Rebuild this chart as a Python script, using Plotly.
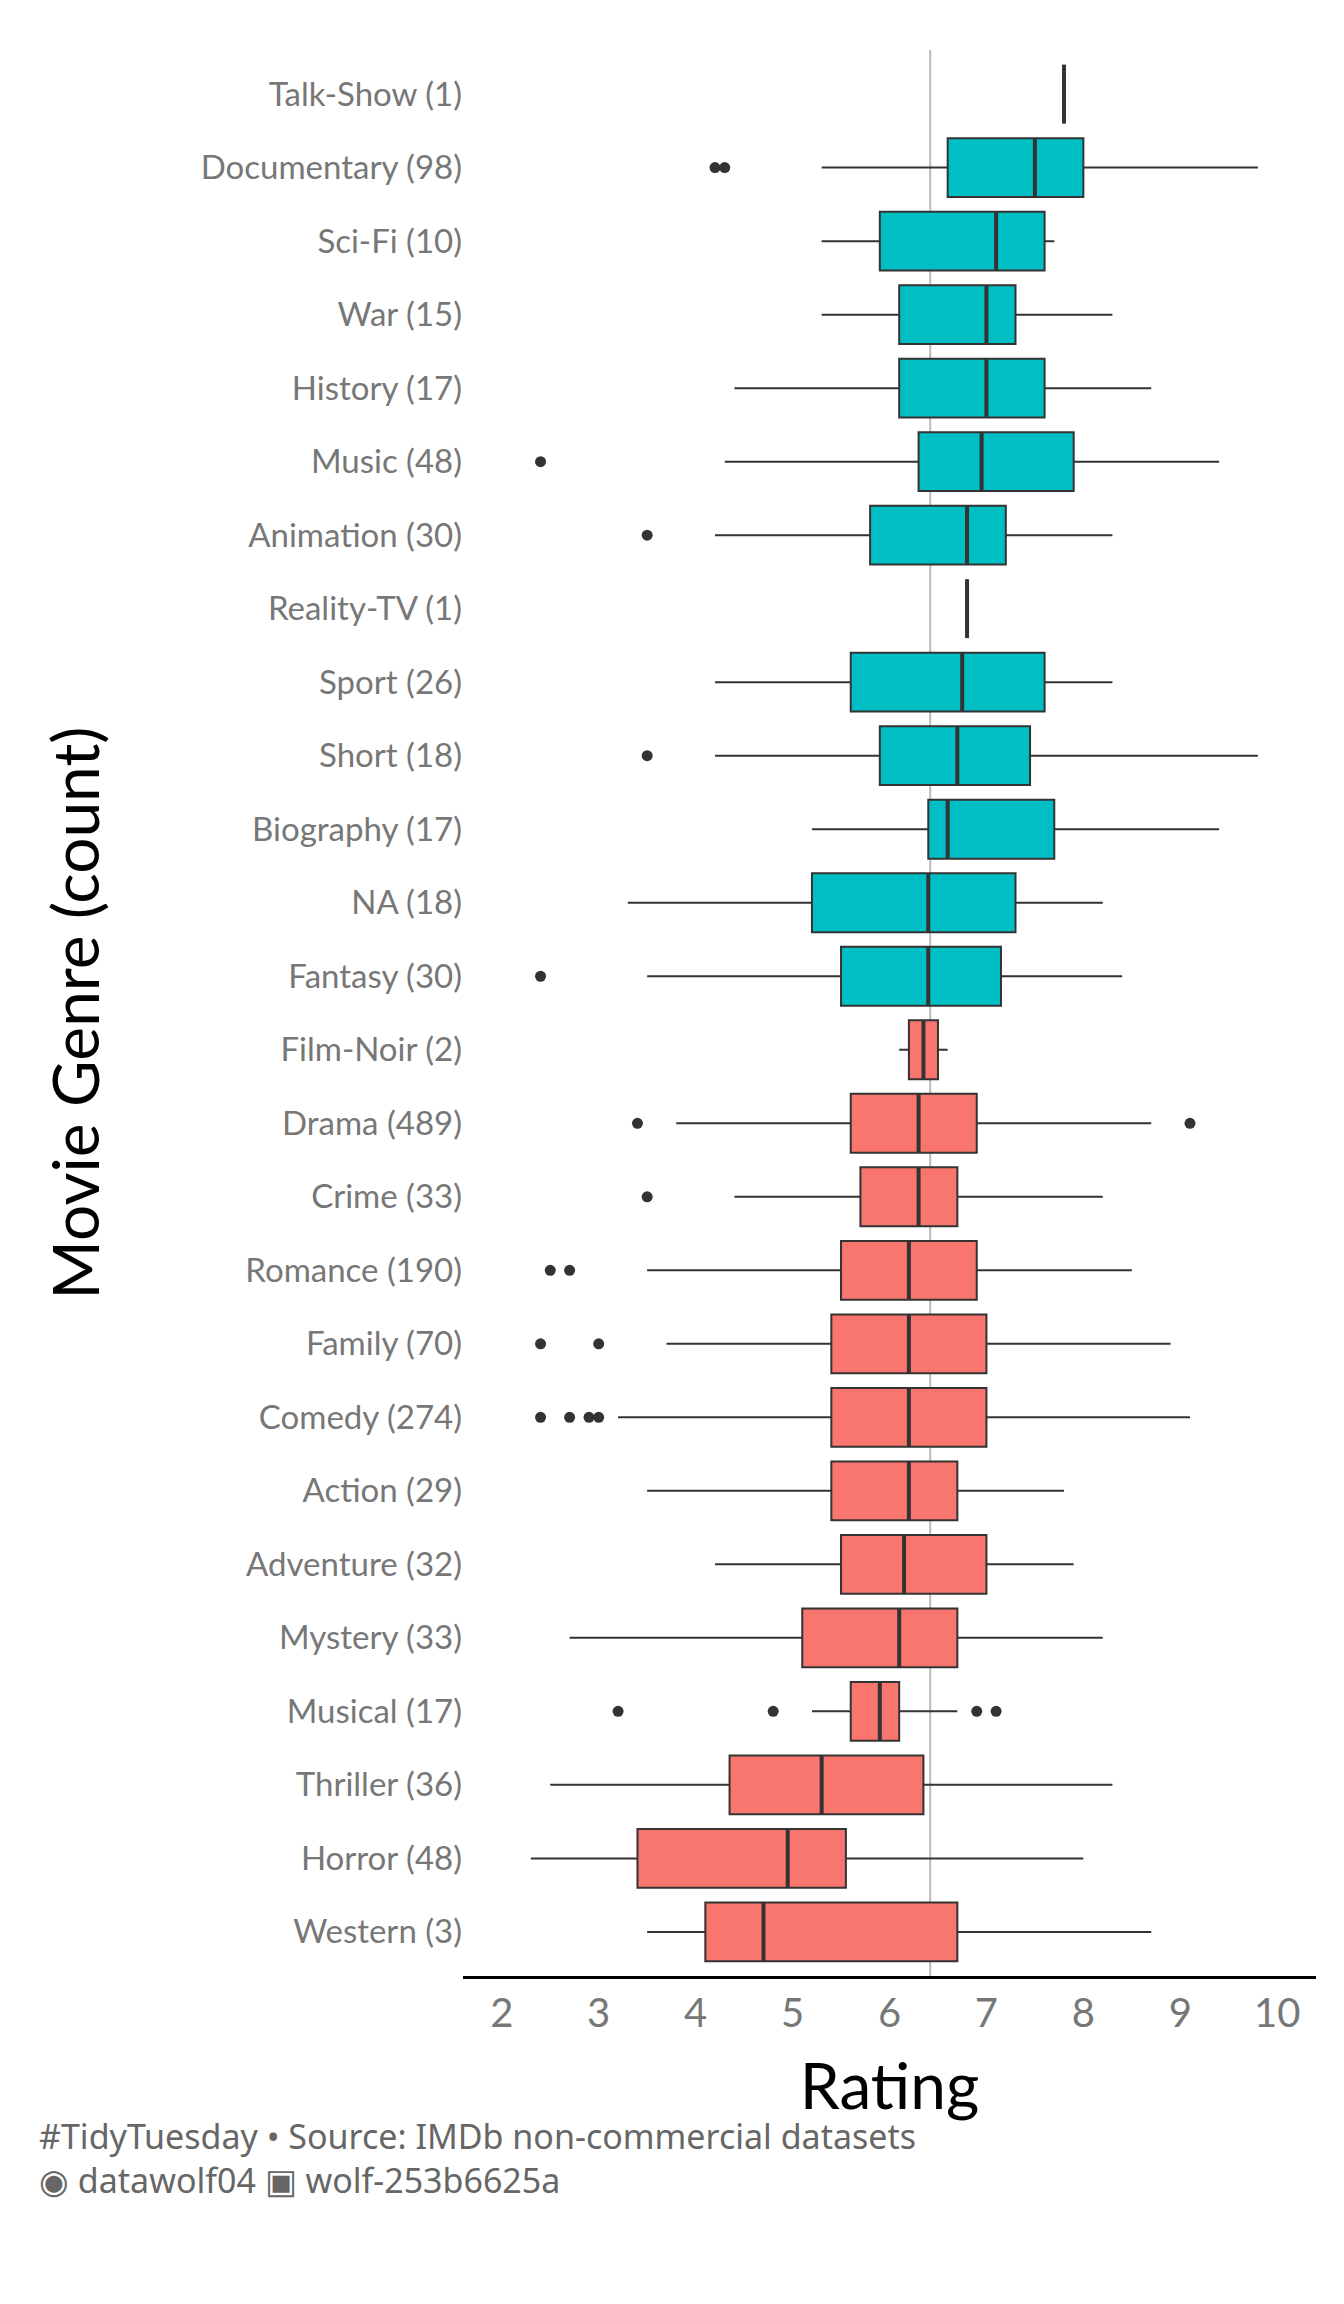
import plotly.graph_objects as go

genres = ["Talk-Show (1)", "Documentary (98)", "Sci-Fi (10)", "War (15)", "History (17)",
          "Music (48)", "Animation (30)", "Reality-TV (1)", "Sport (26)", "Short (18)",
          "Biography (17)", "NA (18)", "Fantasy (30)", "Film-Noir (2)", "Drama (489)",
          "Crime (33)", "Romance (190)", "Family (70)", "Comedy (274)", "Action (29)",
          "Adventure (32)", "Mystery (33)", "Musical (17)", "Thriller (36)", "Horror (48)",
          "Western (3)"]
lower = [7.8, 5.3, 5.3, 5.3, 4.4, 4.3, 4.2, 6.8, 4.2, 4.2, 5.2, 3.3, 3.5, 6.1, 3.8,
         4.4, 3.5, 3.7, 3.2, 3.5, 4.2, 2.7, 5.2, 2.5, 2.3, 3.5]
q1 = [7.8, 6.6, 5.9, 6.1, 6.1, 6.3, 5.8, 6.8, 5.6, 5.9, 6.4, 5.2, 5.5, 6.2, 5.6,
      5.7, 5.5, 5.4, 5.4, 5.4, 5.5, 5.1, 5.6, 4.35, 3.4, 4.1]
median = [7.8, 7.5, 7.1, 7.0, 7.0, 6.95, 6.8, 6.8, 6.75, 6.7, 6.6, 6.4, 6.4, 6.35, 6.3,
          6.3, 6.2, 6.2, 6.2, 6.2, 6.15, 6.1, 5.9, 5.3, 4.95, 4.7]
q3 = [7.8, 8.0, 7.6, 7.3, 7.6, 7.9, 7.2, 6.8, 7.6, 7.45, 7.7, 7.3, 7.15, 6.5, 6.9,
      6.7, 6.9, 7.0, 7.0, 6.7, 7.0, 6.7, 6.1, 6.35, 5.55, 6.7]
upper = [7.8, 9.8, 7.7, 8.3, 8.7, 9.4, 8.3, 6.8, 8.3, 9.8, 9.4, 8.2, 8.4, 6.6, 8.7,
         8.2, 8.5, 8.9, 9.1, 7.8, 7.9, 8.2, 6.7, 8.3, 8.0, 8.7]
outliers = {
    "Documentary (98)": [4.2, 4.3], "Music (48)": [2.4], "Animation (30)": [3.5],
    "Short (18)": [3.5], "Fantasy (30)": [2.4], "Drama (489)": [3.4, 9.1],
    "Crime (33)": [3.5], "Romance (190)": [2.5, 2.7], "Family (70)": [2.4, 3.0],
    "Comedy (274)": [2.4, 2.7, 2.9, 3.0], "Musical (17)": [3.2, 4.8, 6.9, 7.1],
}
overall_median = 6.42
n_top = 13

fig = go.Figure()
for sl, col in [(slice(0, n_top), "#00BFC4"), (slice(n_top, None), "#F8766D")]:
    fig.add_trace(go.Box(
        orientation="h", y=genres[sl], q1=q1[sl], median=median[sl], q3=q3[sl],
        lowerfence=lower[sl], upperfence=upper[sl], fillcolor=col,
        line=dict(color="#333333", width=2), width=0.8, whiskerwidth=0,
        boxpoints=False, showlegend=False, hoverinfo="skip"))

fig.add_trace(go.Scatter(x=median, y=genres, mode="markers", showlegend=False,
                         marker=dict(symbol="line-ns", size=42,
                                     line=dict(color="#333333", width=4))))
ox, oy = [], []
for g, vals in outliers.items():
    ox += vals
    oy += [g] * len(vals)
fig.add_trace(go.Scatter(x=ox, y=oy, mode="markers", showlegend=False,
                         marker=dict(color="#333333", size=11)))

fig.add_vline(x=overall_median, line=dict(color="#bbbbbb", width=2), layer="below")

fig.update_layout(
    width=1344, height=2304, plot_bgcolor="white", paper_bgcolor="white",
    margin=dict(l=455, r=36, t=42, b=336),
    font=dict(family="Lato", color="#777777"),
    xaxis=dict(range=[1.6, 10.4], tickvals=list(range(2, 11)), showgrid=False,
               zeroline=False, showline=True, linecolor="black", linewidth=3,
               tickfont=dict(size=40, color="#777777"), ticks="",
               title=dict(text="Rating", font=dict(size=64, color="black"), standoff=30)),
    yaxis=dict(categoryorder="array", categoryarray=genres[::-1], showgrid=False,
               range=[-0.6, 25.6], ticks="", tickfont=dict(size=33, color="#777777"),
               title=dict(text="Movie Genre (count)", font=dict(size=64, color="black"),
                          standoff=80)),
    annotations=[
        dict(text="#TidyTuesday • Source: IMDb non-commercial datasets<br>"
                  "◉ datawolf04 ▣ wolf-253b6625a",
             xref="paper", yref="paper", x=-0.5, y=-0.07, xanchor="left", yanchor="top",
             align="left", showarrow=False,
             font=dict(family="Noto Sans", size=34, color="#666666")),
    ],
)
fig.write_html("out.html")
